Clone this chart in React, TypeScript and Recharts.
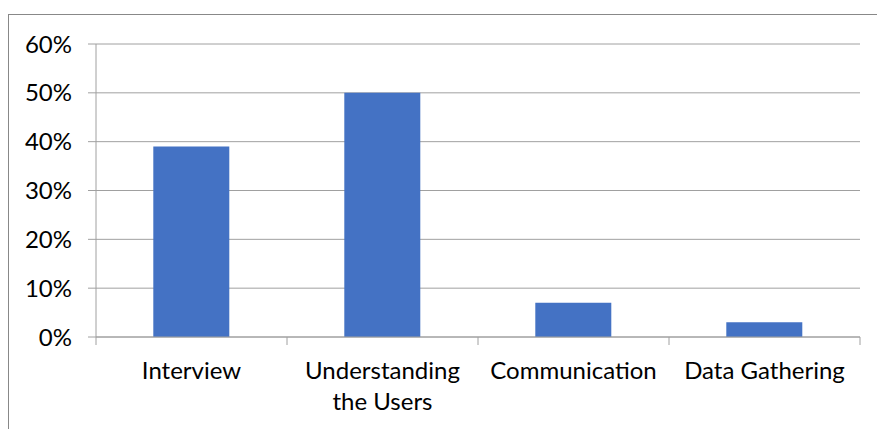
import { BarChart, Bar, XAxis, YAxis, CartesianGrid } from "recharts";

const categories = ["Interview", "Understanding the Users", "Communication", "Data Gathering"];
const shares = [0.39, 0.5, 0.07, 0.03];
const yTicks = [0, 0.1, 0.2, 0.3, 0.4, 0.5, 0.6];

const data = categories.map((name, i) => ({ name, share: shares[i] }));

const FONT = "Lato, 'Open Sans', sans-serif";
const GRID = "#a0a0a0";

// split long labels into lines of roughly maxChars characters
const wrap = (label: string, maxChars: number) => {
  const lines: string[] = [];
  let cur = "";
  label.split(" ").forEach((w) => {
    const next = cur ? cur + " " + w : w;
    if (next.length > maxChars && cur) {
      lines.push(cur);
      cur = w;
    } else {
      cur = next;
    }
  });
  if (cur) lines.push(cur);
  return lines;
};

// label plus excel-style tick marks on the category boundaries
const CategoryTick = (props: any) => {
  const { x, y, payload, width, visibleTicksCount, index } = props;
  const band = width / visibleTicksCount;
  const lines = wrap(String(payload.value), 14);
  const left = x - band / 2;
  const right = x + band / 2;
  return (
    <g>
      <line x1={left} x2={left} y1={y} y2={y + 8} stroke={GRID} />
      {index === visibleTicksCount - 1 && (
        <line x1={right} x2={right} y1={y} y2={y + 8} stroke={GRID} />
      )}
      <text x={x} y={y} textAnchor="middle" fill="#000" fontSize={24} fontFamily={FONT}>
        {lines.map((l, i) => (
          <tspan key={i} x={x} dy={i === 0 ? 42 : 31}>
            {l}
          </tspan>
        ))}
      </text>
    </g>
  );
};

const App = () => {
  return (
    <div
      style={{
        position: "absolute",
        left: 0,
        top: 0,
        width: 877,
        height: 429,
        overflow: "hidden",
        background: "#fff",
      }}
    >
      {/* chart frame, only top and left edges visible */}
      <div
        style={{
          position: "absolute",
          left: 8,
          top: 14,
          width: 900,
          height: 500,
          borderTop: "1px solid #888",
          borderLeft: "1px solid #888",
        }}
      />
      <div style={{ position: "absolute", left: 0, top: 0 }}>
        <BarChart
          width={877}
          height={429}
          data={data}
          margin={{ top: 44, right: 17, bottom: 0, left: 0 }}
          barCategoryGap="30%"
        >
          <CartesianGrid vertical={false} stroke={GRID} />
          <XAxis
            dataKey="name"
            height={92}
            tickLine={false}
            tickSize={0}
            tickMargin={0}
            axisLine={{ stroke: GRID }}
            interval={0}
            tick={<CategoryTick />}
          />
          <YAxis
            width={96}
            domain={[0, 0.6]}
            ticks={yTicks}
            tickSize={8}
            tickMargin={16}
            stroke={GRID}
            tick={{ fill: "#000", fontSize: 24, fontFamily: FONT }}
            tickFormatter={(v: number) => `${Math.round(v * 100)}%`}
          />
          <Bar dataKey="share" fill="#4472C4" isAnimationActive={false} />
        </BarChart>
      </div>
    </div>
  );
};

export default App;
